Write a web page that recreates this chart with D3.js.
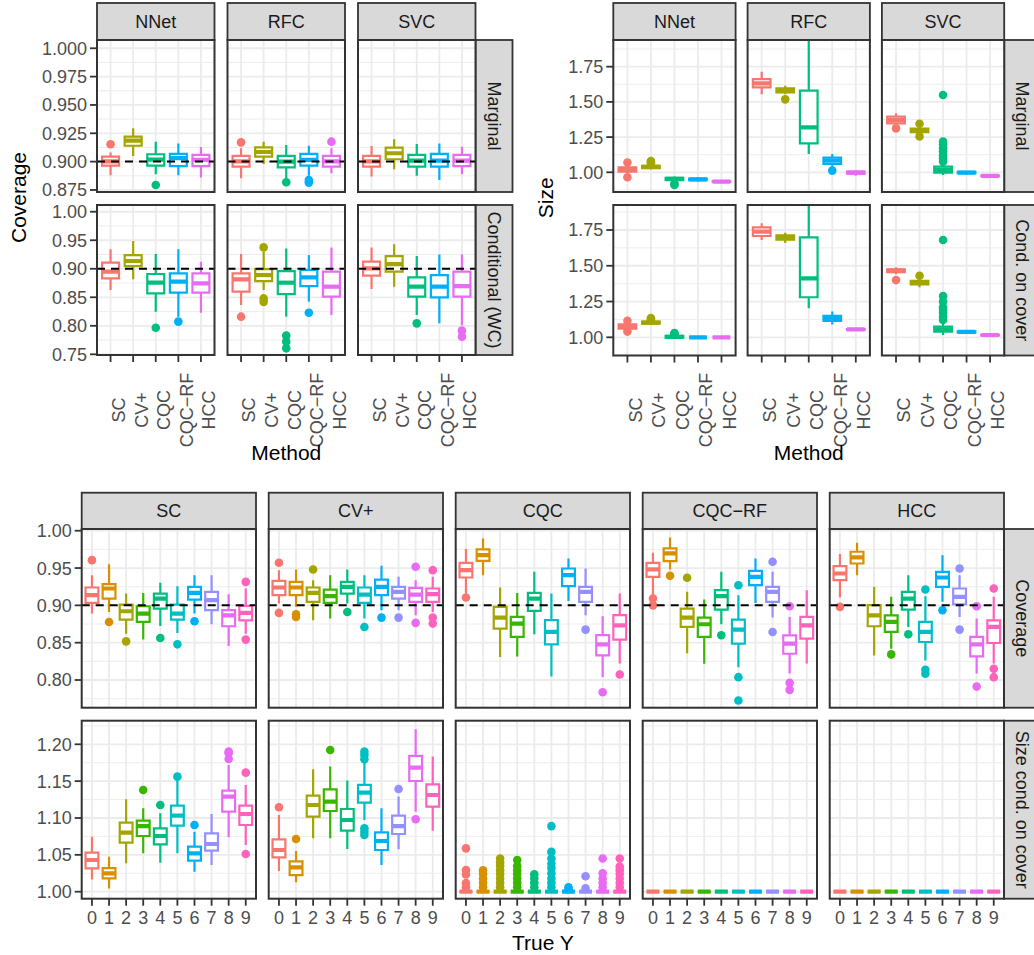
<!DOCTYPE html>
<html>
<head>
<meta charset="utf-8">
<title>Coverage and size</title>
<script src="https://cdn.jsdelivr.net/npm/d3@7"></script>
<style>
  body { margin: 0; background: #fff; }
  svg { display: block; font-family: "Liberation Sans", Arial, Helvetica, sans-serif; }
</style>
</head>
<body>
<svg id="chart" width="1034" height="955"></svg>
<script>
// categories
var methods = ["SC", "CV+", "CQC", "CQC\u2212RF", "HCC"];
var classifiers = ["NNet", "RFC", "SVC"];
var trueY = ["0", "1", "2", "3", "4", "5", "6", "7", "8", "9"];
var methodColors = ["#F8766D", "#A3A500", "#00BF7D", "#00B0F6", "#E76BF3"];
var yColors = ["#F8766D", "#D89000", "#A3A500", "#39B600", "#00BF7D", "#00BFC4", "#00B0F6", "#9590FF", "#E76BF3", "#FF62BC"];

// tick labels
var covMargTicks = [0.875, 0.900, 0.925, 0.950, 0.975, 1.000];
var covCondTicks = [0.75, 0.80, 0.85, 0.90, 0.95, 1.00];
var sizeTicks = [1.00, 1.25, 1.50, 1.75];
var yCovTicks = [0.80, 0.85, 0.90, 0.95, 1.00];
var ySizeTicks = [1.00, 1.05, 1.10, 1.15, 1.20];

// each box: [lower whisker, q1, median, q3, upper whisker, outliers]
var covMargNNet = [
  [0.888, 0.8965, 0.9003, 0.9044, 0.908, [0.9153]],
  [0.905, 0.914, 0.9185, 0.922, 0.9294, []],
  [0.8888, 0.8965, 0.9018, 0.9065, 0.9176, [0.8794]],
  [0.888, 0.896, 0.903, 0.9068, 0.916, []],
  [0.886, 0.896, 0.9015, 0.9059, 0.913, []]
];
var covMargRFC = [
  [0.8853, 0.8956, 0.9003, 0.905, 0.9118, [0.917]],
  [0.898, 0.9044, 0.9085, 0.9126, 0.9176, []],
  [0.8853, 0.895, 0.900, 0.905, 0.9147, [0.8818]],
  [0.8876, 0.8965, 0.9015, 0.9068, 0.914, [0.8838, 0.8815]],
  [0.8897, 0.8956, 0.9003, 0.905, 0.9118, [0.9176]]
];
var covMargSVC = [
  [0.8868, 0.8956, 0.9003, 0.905, 0.9138, []],
  [0.8932, 0.9021, 0.9074, 0.9124, 0.9197, []],
  [0.8876, 0.8956, 0.9009, 0.9059, 0.9156, []],
  [0.8838, 0.8956, 0.9009, 0.9068, 0.916, []],
  [0.8888, 0.896, 0.9009, 0.9059, 0.9132, []]
];
var covCondNNet = [
  [0.8627, 0.8832, 0.8949, 0.9106, 0.934, []],
  [0.8814, 0.9048, 0.9136, 0.924, 0.9486, []],
  [0.8248, 0.8569, 0.8756, 0.8908, 0.9258, [0.7967]],
  [0.816, 0.858, 0.8773, 0.892, 0.934, [0.8073]],
  [0.823, 0.858, 0.8744, 0.892, 0.9124, []]
];
var covCondRFC = [
  [0.8364, 0.8598, 0.8814, 0.892, 0.9258, [0.816]],
  [0.8627, 0.8785, 0.889, 0.8995, 0.93, [0.9375, 0.848, 0.842]],
  [0.816, 0.8557, 0.8756, 0.896, 0.9357, [0.7827, 0.7722, 0.7605]],
  [0.8423, 0.8697, 0.8849, 0.8978, 0.924, [0.823]],
  [0.8189, 0.851, 0.8686, 0.8949, 0.9375, []]
];
var covCondSVC = [
  [0.8645, 0.8879, 0.9007, 0.9124, 0.9375, []],
  [0.8686, 0.8949, 0.9083, 0.9223, 0.9428, []],
  [0.8189, 0.851, 0.8686, 0.8849, 0.9223, [0.8043]],
  [0.8043, 0.8499, 0.8686, 0.889, 0.9252, []],
  [0.801, 0.851, 0.8697, 0.8949, 0.9252, [0.7915, 0.781]]
];
var sizeMargNNet = [
  [0.975, 1.005, 1.02, 1.035, 1.06, [1.07, 0.965]],
  [1.02, 1.03, 1.038, 1.045, 1.055, [1.065, 1.075, 1.08]],
  [0.93, 0.945, 0.953, 0.96, 0.97, [0.92, 0.91]],
  [0.935, 0.945, 0.95, 0.955, 0.965, []],
  [0.93, 0.931, 0.934, 0.937, 0.938, []]
];
var sizeMargRFC = [
  [1.554, 1.603, 1.632, 1.662, 1.714, []],
  [1.555, 1.568, 1.582, 1.596, 1.615, [1.518]],
  [1.13, 1.206, 1.319, 1.58, 2.05, []],
  [1.04, 1.059, 1.083, 1.104, 1.13, [1.012]],
  [0.975, 0.99, 0.998, 1.005, 1.015, []]
];
var sizeMargSVC = [
  [1.336, 1.348, 1.371, 1.395, 1.419, [1.312]],
  [1.27, 1.285, 1.296, 1.31, 1.33, [1.345, 1.255]],
  [0.98, 0.998, 1.017, 1.04, 1.064, [1.549, 1.218, 1.2, 1.17, 1.15, 1.12, 1.10, 1.076]],
  [0.985, 0.993, 0.998, 1.003, 1.01, []],
  [0.97, 0.972, 0.974, 0.976, 0.978, []]
];
var sizeCondNNet = [
  [1.045, 1.06, 1.075, 1.09, 1.10, [1.115, 1.04]],
  [1.09, 1.095, 1.102, 1.11, 1.115, [1.125, 1.135]],
  [0.99, 0.998, 1.003, 1.01, 1.015, [1.02, 1.025, 1.03]],
  [1.0, 1.0, 1.0, 1.0, 1.0, []],
  [1.0, 1.0, 1.0, 1.0, 1.0, []]
];
var sizeCondRFC = [
  [1.68, 1.708, 1.738, 1.769, 1.797, []],
  [1.66, 1.682, 1.699, 1.712, 1.73, []],
  [1.203, 1.28, 1.412, 1.699, 2.05, []],
  [1.09, 1.115, 1.133, 1.15, 1.18, []],
  [1.05, 1.052, 1.055, 1.058, 1.06, []]
];
var sizeCondSVC = [
  [1.44, 1.455, 1.466, 1.475, 1.49, [1.40]],
  [1.35, 1.37, 1.382, 1.395, 1.41, [1.43]],
  [1.016, 1.04, 1.055, 1.075, 1.098, [1.68, 1.289, 1.25, 1.21, 1.19, 1.172, 1.144, 1.121]],
  [1.03, 1.035, 1.038, 1.041, 1.045, []],
  [1.012, 1.014, 1.016, 1.018, 1.02, []]
];

var yCovSC = [
  [0.889, 0.9033, 0.9136, 0.9239, 0.9405, [0.9606]],
  [0.8912, 0.9091, 0.9226, 0.9284, 0.9552, [0.8778]],
  [0.8621, 0.8809, 0.8921, 0.9011, 0.9158, [0.8518]],
  [0.8541, 0.8778, 0.889, 0.8988, 0.9167, []],
  [0.8724, 0.8957, 0.9091, 0.9158, 0.9302, [0.8563]],
  [0.863, 0.8809, 0.889, 0.9011, 0.9257, [0.8478]],
  [0.889, 0.9078, 0.9167, 0.9248, 0.9405, [0.8787]],
  [0.8747, 0.8935, 0.9069, 0.9181, 0.9405, []],
  [0.8456, 0.872, 0.8867, 0.8935, 0.915, []],
  [0.8621, 0.88, 0.8899, 0.8993, 0.9226, [0.9315, 0.8541]]
];
var yCovCVp = [
  [0.9024, 0.9136, 0.9239, 0.9329, 0.9472, [0.957, 0.8899]],
  [0.898, 0.9136, 0.9239, 0.9315, 0.948, [0.8881, 0.8845]],
  [0.88, 0.9047, 0.9167, 0.9239, 0.9337, [0.948]],
  [0.8823, 0.9033, 0.9123, 0.9212, 0.9405, []],
  [0.9024, 0.9158, 0.9248, 0.9315, 0.948, [0.8912]],
  [0.8823, 0.9033, 0.9145, 0.9239, 0.9405, [0.8711]],
  [0.8935, 0.9136, 0.9248, 0.9346, 0.953, [0.8836]],
  [0.8935, 0.9091, 0.9181, 0.9248, 0.9382, [0.8836]],
  [0.8867, 0.9047, 0.9145, 0.9235, 0.9337, [0.9517, 0.8765]],
  [0.8912, 0.9047, 0.915, 0.9226, 0.9382, [0.9472, 0.8836, 0.8756]]
];
var yCovCQC = [
  [0.9158, 0.9373, 0.9472, 0.957, 0.9754, [0.9105]],
  [0.9405, 0.9597, 0.9673, 0.975, 0.9897, []],
  [0.8307, 0.8688, 0.8836, 0.898, 0.9239, []],
  [0.8316, 0.8577, 0.8756, 0.8845, 0.9167, []],
  [0.8612, 0.8926, 0.9091, 0.9167, 0.9449, []],
  [0.8047, 0.8478, 0.8644, 0.8801, 0.9158, []],
  [0.906, 0.9257, 0.9405, 0.9494, 0.9628, []],
  [0.8867, 0.9047, 0.9181, 0.9248, 0.9494, [0.8675]],
  [0.804, 0.833, 0.8477, 0.86, 0.8854, [0.7836]],
  [0.8222, 0.8541, 0.8733, 0.8868, 0.9158, [0.8074]]
];
var yCovCQCRF = [
  [0.9136, 0.9382, 0.9481, 0.957, 0.9705, [0.9091, 0.90]],
  [0.9481, 0.9593, 0.9696, 0.9763, 0.991, [0.9396]],
  [0.836, 0.8711, 0.8836, 0.8957, 0.9181, [0.9369]],
  [0.8218, 0.8577, 0.8747, 0.8836, 0.9078, []],
  [0.8747, 0.8944, 0.9123, 0.9203, 0.9449, [0.8599]],
  [0.8172, 0.8487, 0.8675, 0.8809, 0.9136, [0.927, 0.8038, 0.7725]],
  [0.9033, 0.927, 0.9382, 0.9463, 0.9628, []],
  [0.8836, 0.9047, 0.9181, 0.9248, 0.9449, [0.9584, 0.8644]],
  [0.8087, 0.8352, 0.8487, 0.8599, 0.8845, [0.8988, 0.7962, 0.7868]],
  [0.8222, 0.8554, 0.8733, 0.8845, 0.9203, []]
];
var yCovHCC = [
  [0.9105, 0.9338, 0.9427, 0.9526, 0.9687, [0.898]],
  [0.9405, 0.9561, 0.9642, 0.9718, 0.9839, []],
  [0.8329, 0.872, 0.8867, 0.9002, 0.9248, []],
  [0.842, 0.8644, 0.8778, 0.8867, 0.9114, [0.8343]],
  [0.8711, 0.8944, 0.9091, 0.9181, 0.9405, [0.8612]],
  [0.8262, 0.8509, 0.8644, 0.8778, 0.9123, [0.9212, 0.8137, 0.8083]],
  [0.9047, 0.9248, 0.9373, 0.9449, 0.9673, [0.8935]],
  [0.8845, 0.9015, 0.9114, 0.9226, 0.9405, [0.9494, 0.8675]],
  [0.8087, 0.8316, 0.8477, 0.8577, 0.8823, [0.8988, 0.7912]],
  [0.8222, 0.8496, 0.8711, 0.88, 0.9114, [0.9226, 0.815, 0.8038]]
];
var ySizeSC = [
  [1.0167, 1.0317, 1.043, 1.0529, 1.0747, []],
  [1.0045, 1.0181, 1.0249, 1.0321, 1.0475, []],
  [1.0385, 1.0665, 1.0801, 1.0937, 1.1253, []],
  [1.052, 1.0756, 1.0891, 1.0964, 1.1131, [1.138]],
  [1.0394, 1.0643, 1.0756, 1.086, 1.1063, [1.1176]],
  [1.052, 1.0896, 1.1032, 1.1167, 1.1516, [1.1561]],
  [1.0271, 1.0421, 1.052, 1.0611, 1.0814, [1.0905]],
  [1.0362, 1.0557, 1.0647, 1.0792, 1.1054, []],
  [1.0738, 1.1086, 1.129, 1.1371, 1.172, [1.19, 1.1878, 1.18]],
  [1.0633, 1.0905, 1.1054, 1.1167, 1.1448, [1.1615, 1.0511]]
];
var ySizeCVp = [
  [1.028, 1.0466, 1.0566, 1.071, 1.1041, [1.1145]],
  [1.0127, 1.0226, 1.033, 1.0412, 1.0552, [1.0715]],
  [1.0724, 1.1018, 1.1176, 1.1303, 1.1661, []],
  [1.0724, 1.1095, 1.1222, 1.1389, 1.1697, [1.1923]],
  [1.0579, 1.0828, 1.0973, 1.1122, 1.1507, []],
  [1.0973, 1.1208, 1.1344, 1.1448, 1.1787, [1.19, 1.1855, 1.1796, 1.086, 1.0814, 1.0769]],
  [1.0362, 1.0566, 1.0688, 1.0805, 1.1131, []],
  [1.0575, 1.0783, 1.0891, 1.1032, 1.129, [1.1394]],
  [1.1086, 1.1502, 1.1683, 1.1842, 1.2204, [1.0982]],
  [1.0828, 1.1154, 1.1312, 1.1457, 1.1833, []]
];
var ySizeCQC = [
  [1, 1, 1, 1, 1, [1.0588, 1.0294, 1.0235, 1.0118, 1.0059]],
  [1, 1, 1, 1, 1, [1.029, 1.024, 1.018, 1.012, 1.006]],
  [1, 1, 1, 1, 1, [1.045, 1.04, 1.035, 1.029, 1.024, 1.018, 1.012, 1.006]],
  [1, 1, 1, 1, 1, [1.043, 1.035, 1.029, 1.024, 1.018, 1.012, 1.006]],
  [1, 1, 1, 1, 1, [1.0235, 1.018, 1.012, 1.006]],
  [1, 1, 1, 1, 1, [1.089, 1.054, 1.045, 1.038, 1.032, 1.025, 1.018, 1.012, 1.006]],
  [1, 1, 1, 1, 1, [1.006, 1.003]],
  [1, 1, 1, 1, 1, [1.021, 1.0045]],
  [1, 1, 1, 1, 1, [1.045, 1.025, 1.018, 1.012, 1.006]],
  [1, 1, 1, 1, 1, [1.045, 1.034, 1.029, 1.024, 1.018, 1.012, 1.006]]
];
var ySizeCQCRF = [
  [1, 1, 1, 1, 1, []], [1, 1, 1, 1, 1, []], [1, 1, 1, 1, 1, []], [1, 1, 1, 1, 1, []], [1, 1, 1, 1, 1, []],
  [1, 1, 1, 1, 1, []], [1, 1, 1, 1, 1, []], [1, 1, 1, 1, 1, []], [1, 1, 1, 1, 1, []], [1, 1, 1, 1, 1, []]
];
var ySizeHCC = [
  [1, 1, 1, 1, 1, []], [1, 1, 1, 1, 1, []], [1, 1, 1, 1, 1, []], [1, 1, 1, 1, 1, []], [1, 1, 1, 1, 1, []],
  [1, 1, 1, 1, 1, []], [1, 1, 1, 1, 1, []], [1, 1, 1, 1, 1, []], [1, 1, 1, 1, 1, []], [1, 1, 1, 1, 1, []]
];

var svg = d3.select("#chart");
var clipCount = 0;
var TICK_COL = "#4D4D4D", DARK = "#333333", GRID = "#EBEBEB";
var FS = 18;

function drawFacet(cfg) {
  var g = svg.append("g");
  var defs = svg.append("defs");
  var nCol = cfg.panelX.length;
  var right = cfg.panelX[nCol - 1] + cfg.panelW;

  // strips across the top
  cfg.colLabels.forEach(function(lab, c) {
    var x0 = cfg.panelX[c];
    g.append("rect")
      .attr("x", x0).attr("y", cfg.stripTop)
      .attr("width", cfg.panelW).attr("height", cfg.rows[0].top - cfg.stripTop)
      .attr("fill", "#D9D9D9").attr("stroke", DARK).attr("stroke-width", 1.8);
    g.append("text")
      .attr("x", x0 + cfg.panelW / 2).attr("y", (cfg.stripTop + cfg.rows[0].top) / 2)
      .attr("dy", "0.36em").attr("text-anchor", "middle")
      .attr("font-size", FS).attr("fill", "#1A1A1A").text(lab);
  });

  cfg.rows.forEach(function(row, r) {
    var y = d3.scaleLinear().domain(row.domain).range([row.bottom, row.top]);
    var step = row.ticks[1] - row.ticks[0];
    var minor = d3.range(-1, row.ticks.length).map(function(i) { return row.ticks[0] + (i + 0.5) * step; })
      .filter(function(v) { return v > row.domain[0] && v < row.domain[1]; });

    // strip on the right
    g.append("rect")
      .attr("x", right).attr("y", row.top)
      .attr("width", cfg.stripW).attr("height", row.bottom - row.top)
      .attr("fill", "#D9D9D9").attr("stroke", DARK).attr("stroke-width", 1.8);
    g.append("text")
      .attr("transform", "translate(" + (right + cfg.stripW / 2) + "," + ((row.top + row.bottom) / 2) + ") rotate(90)")
      .attr("dy", "0.36em").attr("text-anchor", "middle")
      .attr("font-size", FS).attr("fill", "#1A1A1A").text(cfg.rowLabels[r]);

    cfg.panelX.forEach(function(x0, c) {
      var x = d3.scalePoint().domain(cfg.cats).range([x0, x0 + cfg.panelW]).padding(0.6);
      var bw = x.step() * 0.75;
      var id = "clip" + (clipCount++);
      defs.append("clipPath").attr("id", id).append("rect")
        .attr("x", x0).attr("y", row.top).attr("width", cfg.panelW).attr("height", row.bottom - row.top);
      var p = g.append("g").attr("clip-path", "url(#" + id + ")");

      p.append("rect").attr("x", x0).attr("y", row.top)
        .attr("width", cfg.panelW).attr("height", row.bottom - row.top).attr("fill", "#fff");

      p.selectAll("line.minor").data(minor).enter().append("line")
        .attr("x1", x0).attr("x2", x0 + cfg.panelW)
        .attr("y1", function(d) { return y(d); }).attr("y2", function(d) { return y(d); })
        .attr("stroke", GRID).attr("stroke-width", 0.9);
      p.selectAll("line.major").data(row.ticks).enter().append("line")
        .attr("x1", x0).attr("x2", x0 + cfg.panelW)
        .attr("y1", function(d) { return y(d); }).attr("y2", function(d) { return y(d); })
        .attr("stroke", GRID).attr("stroke-width", 1.8);
      p.selectAll("line.vgrid").data(cfg.cats).enter().append("line")
        .attr("x1", function(d) { return x(d); }).attr("x2", function(d) { return x(d); })
        .attr("y1", row.top).attr("y2", row.bottom)
        .attr("stroke", GRID).attr("stroke-width", 1.8);

      var boxes = p.selectAll("g.box").data(row.data[c]).enter().append("g");
      boxes.each(function(d, i) {
        var b = d3.select(this);
        var cx = x(cfg.cats[i]);
        var col = cfg.colors[i];
        b.selectAll("circle").data(d[5]).enter().append("circle")
          .attr("cx", cx).attr("cy", function(v) { return y(v); })
          .attr("r", 4.3).attr("fill", col);
        b.append("line").attr("x1", cx).attr("x2", cx)
          .attr("y1", y(d[3])).attr("y2", y(d[4]))
          .attr("stroke", col).attr("stroke-width", 2.2);
        b.append("line").attr("x1", cx).attr("x2", cx)
          .attr("y1", y(d[0])).attr("y2", y(d[1]))
          .attr("stroke", col).attr("stroke-width", 2.2);
        b.append("path")
          .attr("d", "M" + (cx - bw / 2) + "," + y(d[3]) + "H" + (cx + bw / 2) + "V" + y(d[1]) + "H" + (cx - bw / 2) + "Z")
          .attr("fill", "#fff").attr("stroke", col).attr("stroke-width", 2.2);
        b.append("line").attr("x1", cx - bw / 2).attr("x2", cx + bw / 2)
          .attr("y1", y(d[2])).attr("y2", y(d[2]))
          .attr("stroke", col).attr("stroke-width", 4.2);
      });

      if (row.ref != null) {
        p.append("line").attr("x1", x0).attr("x2", x0 + cfg.panelW)
          .attr("y1", y(row.ref)).attr("y2", y(row.ref))
          .attr("stroke", "#000").attr("stroke-width", 2).attr("stroke-dasharray", "8,6");
      }

      g.append("rect").attr("x", x0).attr("y", row.top)
        .attr("width", cfg.panelW).attr("height", row.bottom - row.top)
        .attr("fill", "none").attr("stroke", DARK).attr("stroke-width", 2);

      // x axis under the last row
      if (r === cfg.rows.length - 1) {
        cfg.cats.forEach(function(cat) {
          g.append("line").attr("x1", x(cat)).attr("x2", x(cat))
            .attr("y1", row.bottom).attr("y2", row.bottom + 7)
            .attr("stroke", DARK).attr("stroke-width", 1.8);
          if (cfg.rotLabels) {
            g.append("text")
              .attr("transform", "translate(" + x(cat) + "," + cfg.rotCenterY + ") rotate(-90)")
              .attr("dy", "0.8em").attr("text-anchor", "middle")
              .attr("font-size", FS).attr("fill", TICK_COL).text(cat);
          } else {
            g.append("text").attr("x", x(cat)).attr("y", row.bottom + 25)
              .attr("text-anchor", "middle")
              .attr("font-size", FS).attr("fill", TICK_COL).text(cat);
          }
        });
      }
    });

    // y axis on the first column
    var ax = cfg.panelX[0];
    row.ticks.forEach(function(t) {
      g.append("line").attr("x1", ax - 7).attr("x2", ax)
        .attr("y1", y(t)).attr("y2", y(t))
        .attr("stroke", DARK).attr("stroke-width", 1.8);
      g.append("text").attr("x", ax - 10).attr("y", y(t))
        .attr("dy", "0.36em").attr("text-anchor", "end")
        .attr("font-size", FS).attr("fill", TICK_COL).text(d3.format(row.fmt)(t));
    });
  });

  if (cfg.xTitle) {
    g.append("text").attr("x", (cfg.panelX[0] + right) / 2).attr("y", cfg.xTitleY)
      .attr("text-anchor", "middle").attr("font-size", 21).attr("fill", "#000").text(cfg.xTitle);
  }
  if (cfg.yTitle) {
    var last = cfg.rows[cfg.rows.length - 1];
    g.append("text")
      .attr("transform", "translate(" + cfg.yTitleX + "," + ((cfg.rows[0].top + last.bottom) / 2) + ") rotate(-90)")
      .attr("text-anchor", "middle").attr("font-size", 21).attr("fill", "#000").text(cfg.yTitle);
  }
}

// coverage by method
drawFacet({
  cats: methods, colors: methodColors,
  colLabels: classifiers, rowLabels: ["Marginal", "Conditional (WC)"],
  panelX: [97, 227.5, 358], panelW: 117.5, stripTop: 3, stripW: 37,
  rows: [
    { top: 40, bottom: 192, domain: [0.8732, 1.0073], ticks: covMargTicks, fmt: ".3f", ref: 0.9,
      data: [covMargNNet, covMargRFC, covMargSVC] },
    { top: 205, bottom: 355, domain: [0.7488, 1.0118], ticks: covCondTicks, fmt: ".2f", ref: 0.9,
      data: [covCondNNet, covCondRFC, covCondSVC] }
  ],
  rotLabels: true, rotCenterY: 410,
  xTitle: "Method", xTitleY: 460, yTitle: "Coverage", yTitleX: 26
});

// size by method
drawFacet({
  cats: methods, colors: methodColors,
  colLabels: classifiers, rowLabels: ["Marginal", "Cond. on cover"],
  panelX: [613.3, 747.6, 881.9], panelW: 122.3, stripTop: 3, stripW: 37,
  rows: [
    { top: 40, bottom: 192, domain: [0.860, 1.9396], ticks: sizeTicks, fmt: ".2f", ref: null,
      data: [sizeMargNNet, sizeMargRFC, sizeMargSVC] },
    { top: 205, bottom: 355.5, domain: [0.8728, 1.9248], ticks: sizeTicks, fmt: ".2f", ref: null,
      data: [sizeCondNNet, sizeCondRFC, sizeCondSVC] }
  ],
  rotLabels: true, rotCenterY: 410,
  xTitle: "Method", xTitleY: 460, yTitle: "Size", yTitleX: 553
});

// by true label
drawFacet({
  cats: trueY, colors: yColors,
  colLabels: methods, rowLabels: ["Coverage", "Size cond. on cover"],
  panelX: [81.7, 268.7, 455.7, 642.7, 829.7], panelW: 174.3, stripTop: 492.7, stripW: 37,
  rows: [
    { top: 529, bottom: 707.7, domain: [0.7629, 1.0023], ticks: yCovTicks, fmt: ".2f", ref: 0.9,
      data: [yCovSC, yCovCVp, yCovCQC, yCovCQCRF, yCovHCC] },
    { top: 720.7, bottom: 898.7, domain: [0.9905, 1.232], ticks: ySizeTicks, fmt: ".2f", ref: null,
      data: [ySizeSC, ySizeCVp, ySizeCQC, ySizeCQCRF, ySizeHCC] }
  ],
  rotLabels: false,
  xTitle: "True Y", xTitleY: 950, yTitle: null
});
</script>
</body>
</html>
